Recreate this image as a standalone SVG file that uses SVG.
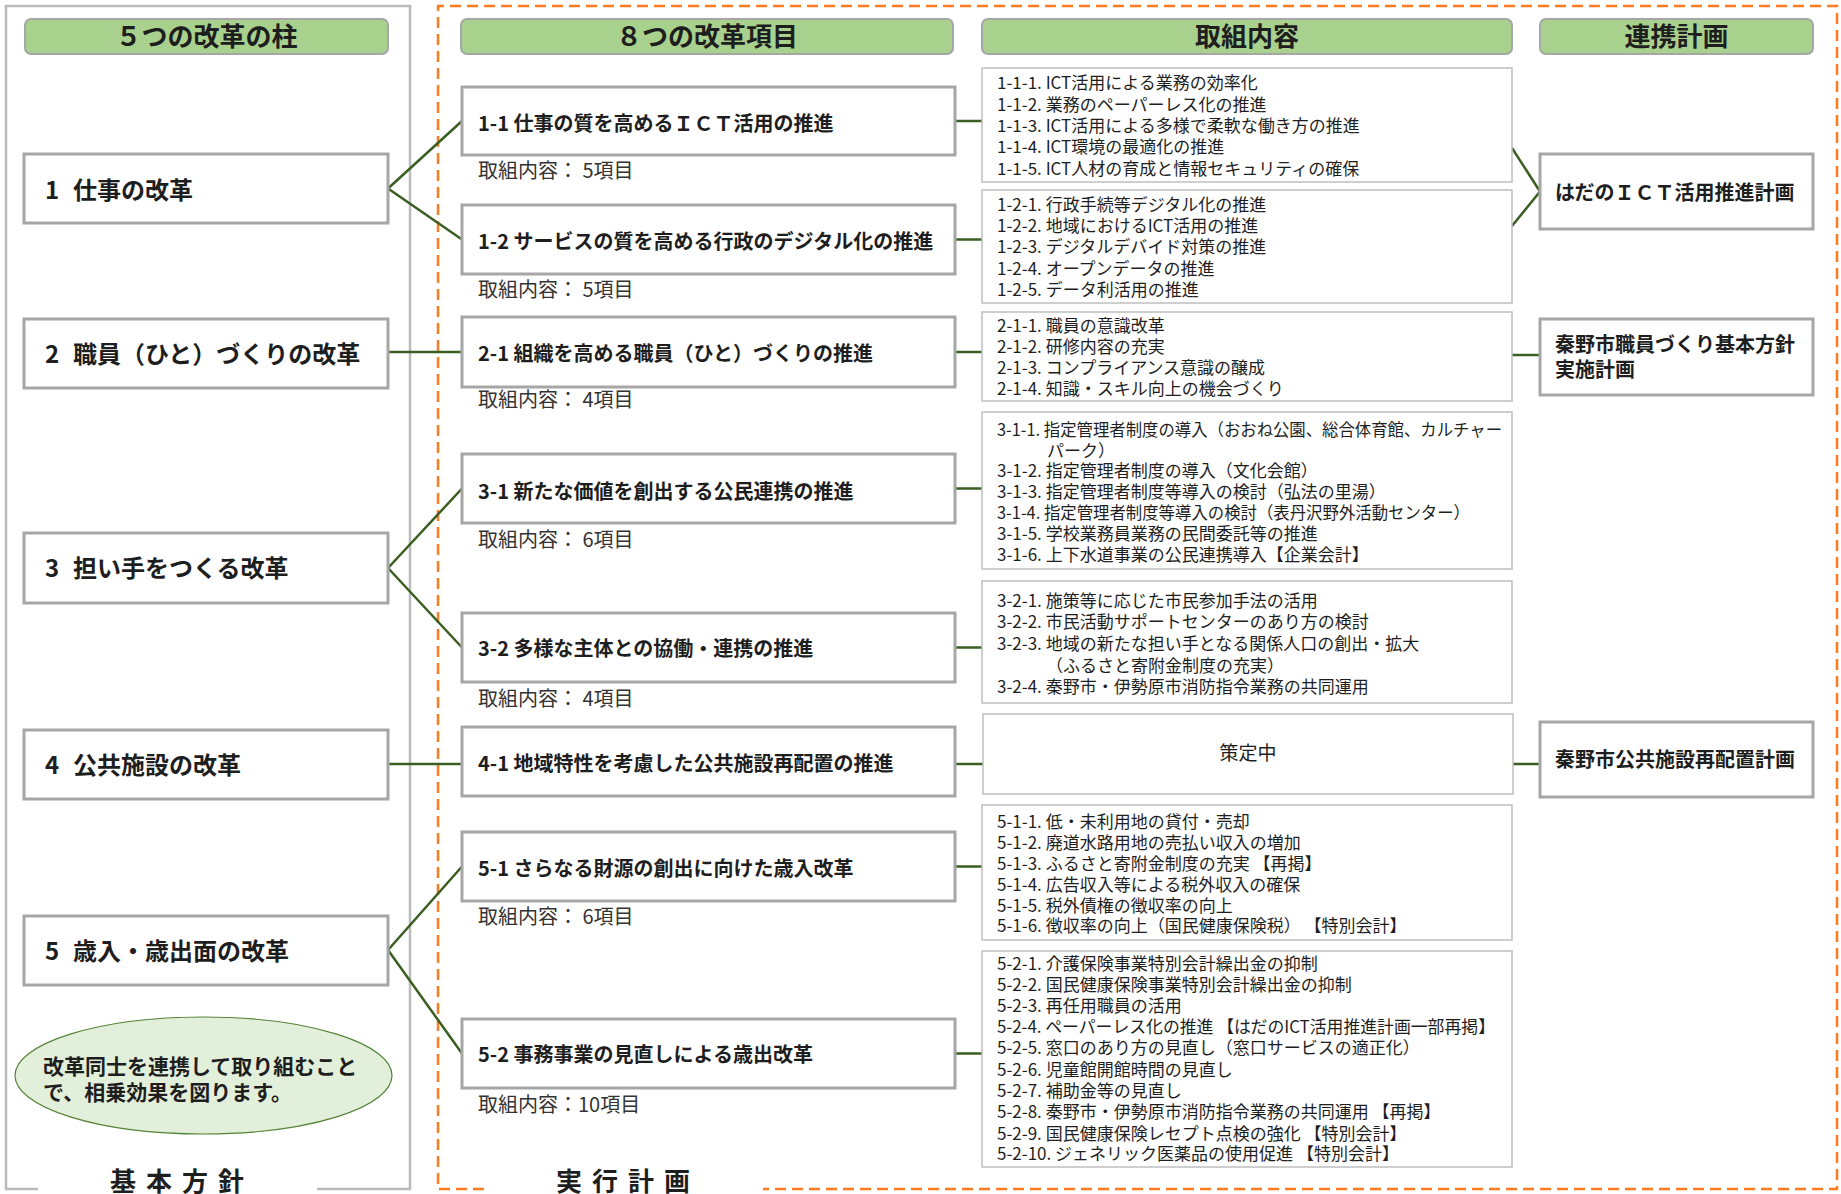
<svg xmlns="http://www.w3.org/2000/svg" width="1841" height="1194" viewBox="0 0 1841 1194">
<style>
text{font-family:"Noto Sans CJK JP","Noto Sans",sans-serif;fill:#1e1e1e}
.hdr{fill:#A9D18E;stroke:#A6A6A6;stroke-width:2}
.ht{font-size:26px;font-weight:bold;text-anchor:middle}
.box{fill:#fff;stroke:#A6A6A6;stroke-width:3}
.cbox{fill:#fff;stroke:#BFBFBF;stroke-width:1.5}
.pt{font-size:24px;font-weight:bold}
.mt{font-size:20px;font-weight:bold}
.lb{font-size:20px;fill:#333}
.it{font-size:17px}
.rt{font-size:20px;font-weight:bold}
.con{fill:none;stroke:#3B5E21;stroke-width:2.5}
.bt{font-size:26px;font-weight:bold;letter-spacing:10px}
</style>
<rect width="1841" height="1194" fill="#fff"/>
<g id="frames">
<path d="M38,1189 L6,1189 L6,6 L410,6 L410,1189 L317,1189" fill="none" stroke="#BBBBBB" stroke-width="2.5"/>
<path d="M484,1189 L438,1189 L438,6 L1837,6 L1837,1189 L763,1189" fill="none" stroke="#FF7A21" stroke-width="2.5" stroke-dasharray="11,6"/>
<text class="bt" x="110" y="1191">基本方針</text>
<text class="bt" x="556" y="1191">実行計画</text>
</g>
<g id="headers">
<rect class="hdr" x="25" y="19" width="363" height="35" rx="6"/>
<text class="ht" x="206.5" y="46">５つの改革の柱</text>
<rect class="hdr" x="461" y="19" width="492" height="35" rx="6"/>
<text class="ht" x="707" y="46">８つの改革項目</text>
<rect class="hdr" x="982" y="19" width="530" height="35" rx="6"/>
<text class="ht" x="1247" y="46">取組内容</text>
<rect class="hdr" x="1540" y="19" width="273" height="35" rx="6"/>
<text class="ht" x="1676.5" y="46">連携計画</text>
</g>
<g id="connectors">
<path class="con" d="M388,188.5 L462,121 M388,188.5 L462,239.5"/>
<path class="con" d="M388,352 L462,352"/>
<path class="con" d="M388,568 L462,488.5 M388,568 L462,647.5"/>
<path class="con" d="M388,764 L462,764"/>
<path class="con" d="M388,950 L462,866.5 M388,950 L462,1053.5"/>
<path class="con" d="M955,121 H982 M955,239.5 H982 M955,352 H982 M955,488.5 H982 M955,647.5 H982 M955,764 H983 M955,866.5 H982 M955,1053.5 H982"/>
<path class="con" d="M1512,148 L1540,191.5 M1512,226 L1540,191.5"/>
<path class="con" d="M1512,355 H1540"/>
<path class="con" d="M1513,764 H1540"/>
</g>
<g id="pillar1"><rect class="box" x="24" y="154" width="364" height="69"/><text class="pt" y="199"><tspan x="45">1</tspan><tspan x="73">仕事の改革</tspan></text></g>
<g id="pillar2"><rect class="box" x="24" y="319" width="364" height="69"/><text class="pt" y="363"><tspan x="45">2</tspan><tspan x="73">職員（ひと）づくりの改革</tspan></text></g>
<g id="pillar3"><rect class="box" x="24" y="533" width="364" height="70"/><text class="pt" y="577"><tspan x="45">3</tspan><tspan x="73">担い手をつくる改革</tspan></text></g>
<g id="pillar4"><rect class="box" x="24" y="730" width="364" height="69"/><text class="pt" y="774"><tspan x="45">4</tspan><tspan x="73">公共施設の改革</tspan></text></g>
<g id="pillar5"><rect class="box" x="24" y="916" width="364" height="69"/><text class="pt" y="960"><tspan x="45">5</tspan><tspan x="73">歳入・歳出面の改革</tspan></text></g>
<g id="note">
<ellipse cx="203.5" cy="1075.5" rx="188.5" ry="58.5" fill="#E2EFDA" stroke="#548235" stroke-width="1.2"/>
<text class="pt" style="font-size:21px" x="43" y="1074">改革同士を連携して取り組むこと</text>
<text class="pt" style="font-size:21px" x="43" y="1100">で、相乗効果を図ります。</text>
</g>
<g id="item1-1"><rect class="box" x="462" y="87" width="493" height="68"/><text class="mt" x="478" y="131">1-1 仕事の質を高めるＩＣＴ活用の推進</text><text class="lb" x="478" y="178">取組内容： 5項目</text></g>
<g id="item1-2"><rect class="box" x="462" y="205" width="493" height="69"/><text class="mt" x="478" y="249">1-2 サービスの質を高める行政のデジタル化の推進</text><text class="lb" x="478" y="297">取組内容： 5項目</text></g>
<g id="item2-1"><rect class="box" x="462" y="317" width="493" height="70"/><text class="mt" x="478" y="361">2-1 組織を高める職員（ひと）づくりの推進</text><text class="lb" x="478" y="407">取組内容： 4項目</text></g>
<g id="item3-1"><rect class="box" x="462" y="454" width="493" height="69"/><text class="mt" x="478" y="499">3-1 新たな価値を創出する公民連携の推進</text><text class="lb" x="478" y="547">取組内容： 6項目</text></g>
<g id="item3-2"><rect class="box" x="462" y="613" width="493" height="69"/><text class="mt" x="478" y="656">3-2 多様な主体との協働・連携の推進</text><text class="lb" x="478" y="706">取組内容： 4項目</text></g>
<g id="item4-1"><rect class="box" x="462" y="727" width="493" height="69"/><text class="mt" x="478" y="771">4-1 地域特性を考慮した公共施設再配置の推進</text></g>
<g id="item5-1"><rect class="box" x="462" y="832" width="493" height="69"/><text class="mt" x="478" y="876">5-1 さらなる財源の創出に向けた歳入改革</text><text class="lb" x="478" y="924">取組内容： 6項目</text></g>
<g id="item5-2"><rect class="box" x="462" y="1019" width="493" height="69"/><text class="mt" x="478" y="1062">5-2 事務事業の見直しによる歳出改革</text><text class="lb" x="478" y="1112">取組内容：10項目</text></g>
<g id="content1-1"><rect class="cbox" x="982" y="68" width="530" height="114"/>
<text class="it" x="997" y="89">1-1-1. ICT活用による業務の効率化</text>
<text class="it" x="997" y="110.5">1-1-2. 業務のペーパーレス化の推進</text>
<text class="it" x="997" y="132">1-1-3. ICT活用による多様で柔軟な働き方の推進</text>
<text class="it" x="997" y="153">1-1-4. ICT環境の最適化の推進</text>
<text class="it" x="997" y="174.5">1-1-5. ICT人材の育成と情報セキュリティの確保</text>
</g>
<g id="content1-2"><rect class="cbox" x="982" y="190" width="530" height="113"/>
<text class="it" x="997" y="210.5">1-2-1. 行政手続等デジタル化の推進</text>
<text class="it" x="997" y="231.5">1-2-2. 地域におけるICT活用の推進</text>
<text class="it" x="997" y="252.5">1-2-3. デジタルデバイド対策の推進</text>
<text class="it" x="997" y="274.5">1-2-4. オープンデータの推進</text>
<text class="it" x="997" y="295.5">1-2-5. データ利活用の推進</text>
</g>
<g id="content2-1"><rect class="cbox" x="982" y="312" width="530" height="89"/>
<text class="it" x="997" y="331.5">2-1-1. 職員の意識改革</text>
<text class="it" x="997" y="352.5">2-1-2. 研修内容の充実</text>
<text class="it" x="997" y="373.5">2-1-3. コンプライアンス意識の醸成</text>
<text class="it" x="997" y="394.5">2-1-4. 知識・スキル向上の機会づくり</text>
</g>
<g id="content3-1"><rect class="cbox" x="982" y="412" width="530" height="157"/>
<text class="it" x="997" y="435.5" textLength="505" lengthAdjust="spacingAndGlyphs">3-1-1. 指定管理者制度の導入（おおね公園、総合体育館、カルチャー</text>
<text class="it" x="1047" y="456.5">パーク）</text>
<text class="it" x="997" y="477">3-1-2. 指定管理者制度の導入（文化会館）</text>
<text class="it" x="997" y="497.5">3-1-3. 指定管理者制度等導入の検討（弘法の里湯）</text>
<text class="it" x="997" y="518.5" textLength="473" lengthAdjust="spacingAndGlyphs">3-1-4. 指定管理者制度等導入の検討（表丹沢野外活動センター）</text>
<text class="it" x="997" y="539.5">3-1-5. 学校業務員業務の民間委託等の推進</text>
<text class="it" x="997" y="560.5">3-1-6. 上下水道事業の公民連携導入【企業会計】</text>
</g>
<g id="content3-2"><rect class="cbox" x="982" y="581" width="530" height="122"/>
<text class="it" x="997" y="606.5">3-2-1. 施策等に応じた市民参加手法の活用</text>
<text class="it" x="997" y="627.5">3-2-2. 市民活動サポートセンターのあり方の検討</text>
<text class="it" x="997" y="649.5">3-2-3. 地域の新たな担い手となる関係人口の創出・拡大</text>
<text class="it" x="1046" y="671.5">（ふるさと寄附金制度の充実）</text>
<text class="it" x="997" y="692.5">3-2-4. 秦野市・伊勢原市消防指令業務の共同運用</text>
</g>
<g id="content4-1"><rect class="cbox" x="983" y="714" width="530" height="80"/>
<text x="1248" y="760" style="font-size:19px;text-anchor:middle">策定中</text>
</g>
<g id="content5-1"><rect class="cbox" x="982" y="805" width="530" height="135"/>
<text class="it" x="997" y="827.5">5-1-1. 低・未利用地の貸付・売却</text>
<text class="it" x="997" y="848.5">5-1-2. 廃道水路用地の売払い収入の増加</text>
<text class="it" x="997" y="869.5">5-1-3. ふるさと寄附金制度の充実 【再掲】</text>
<text class="it" x="997" y="890.5">5-1-4. 広告収入等による税外収入の確保</text>
<text class="it" x="997" y="911.5">5-1-5. 税外債権の徴収率の向上</text>
<text class="it" x="997" y="932">5-1-6. 徴収率の向上（国民健康保険税） 【特別会計】</text>
</g>
<g id="content5-2"><rect class="cbox" x="982" y="951" width="530" height="216"/>
<text class="it" x="997" y="969.5">5-2-1. 介護保険事業特別会計繰出金の抑制</text>
<text class="it" x="997" y="990.5">5-2-2. 国民健康保険事業特別会計繰出金の抑制</text>
<text class="it" x="997" y="1011.5">5-2-3. 再任用職員の活用</text>
<text class="it" x="997" y="1032.5" textLength="498" lengthAdjust="spacingAndGlyphs">5-2-4. ペーパーレス化の推進 【はだのICT活用推進計画一部再掲】</text>
<text class="it" x="997" y="1054">5-2-5. 窓口のあり方の見直し（窓口サービスの適正化）</text>
<text class="it" x="997" y="1075.5">5-2-6. 児童館開館時間の見直し</text>
<text class="it" x="997" y="1096.5">5-2-7. 補助金等の見直し</text>
<text class="it" x="997" y="1118">5-2-8. 秦野市・伊勢原市消防指令業務の共同運用 【再掲】</text>
<text class="it" x="997" y="1139.5">5-2-9. 国民健康保険レセプト点検の強化 【特別会計】</text>
<text class="it" x="997" y="1160">5-2-10. ジェネリック医薬品の使用促進 【特別会計】</text>
</g>
<g id="plan1"><rect class="box" x="1540" y="154" width="273" height="75"/><text class="rt" x="1555" y="200">はだのＩＣＴ活用推進計画</text></g>
<g id="plan2"><rect class="box" x="1540" y="319" width="273" height="76"/><text class="rt" x="1555" y="352">秦野市職員づくり基本方針</text><text class="rt" x="1555" y="377">実施計画</text></g>
<g id="plan3"><rect class="box" x="1540" y="722" width="273" height="75"/><text class="rt" x="1555" y="767">秦野市公共施設再配置計画</text></g>
</svg>
